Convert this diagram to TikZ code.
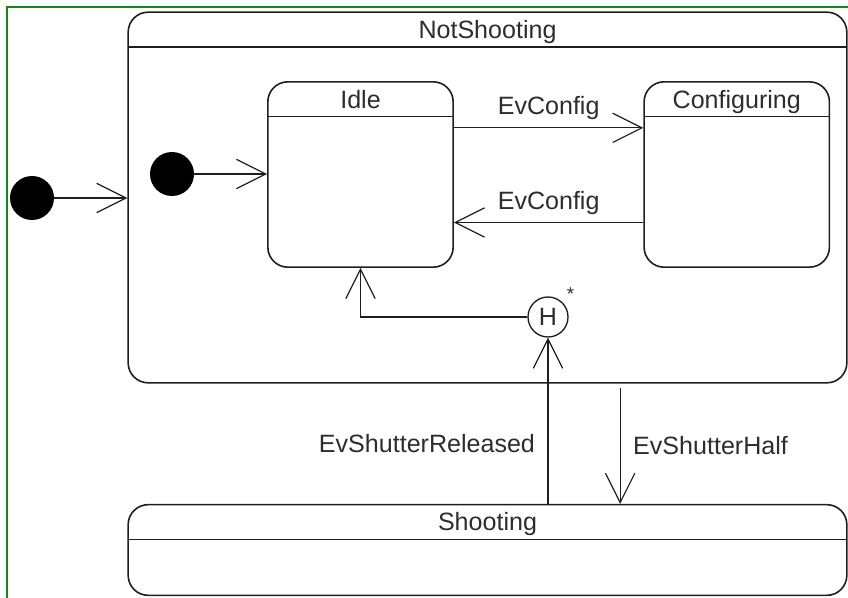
\documentclass[tikz,border=0pt]{standalone}
\usepackage{fontspec}
\setmainfont{Liberation Sans}
\usepackage{tikz}
\usetikzlibrary{positioning}
\usetikzlibrary{arrows.meta}

\definecolor{framegreen}{RGB}{20,135,20}
\definecolor{ink}{RGB}{30,30,30}
\definecolor{textgray}{RGB}{45,45,45}

\begin{document}
\begin{tikzpicture}[
    x=0.75pt, y=-0.75pt,
    every node/.style={font=\fontsize{18.8}{22}\selectfont, text=textgray},
    state/.style={draw=ink, line width=1.2pt, rectangle, rounded corners=15pt,
                  inner sep=0pt,
                  path picture={\draw[ink, line width=1.2pt]
                    ([yshift=-26pt]path picture bounding box.north west) --
                    ([yshift=-26pt]path picture bounding box.north east);}},
    title/.style={anchor=north, inner sep=0pt, yshift=-6.5pt},
    initial/.style={circle, fill=black, minimum size=33pt, inner sep=0pt},
    hist/.style={circle, draw=ink, line width=1pt, minimum size=30pt, inner sep=0pt},
    trans/.style={draw=ink, line width=0.9pt,
                  -{Straight Barb[length=22pt, width=22pt, line width=0.9pt]}},
    >=stealth
  ]
    \useasboundingbox (0,0) rectangle (848,598);
    \clip (0,0) rectangle (848,598);

    % cadre vert
    \draw[framegreen, line width=1.2pt] (7,7) rectangle (870,620);

    % Etats composites
    \node[state, minimum width=539pt, minimum height=278pt] (notshooting) at (487.5,197.5) {};
    \node[title] at (notshooting.north) {NotShooting};
    \node[state, minimum width=539pt, minimum height=68pt] (shooting) at (487.5,550) {};
    \node[title] at (shooting.north) {Shooting};

    % Etats internes
    \node[state, minimum width=139pt, minimum height=139pt] (idle) at (360.5,174.5) {};
    \node[title] at (idle.north) {Idle};
    \node[state, minimum width=139pt, minimum height=139pt, right=142pt of idle] (config) {};
    \node[title] at (config.north) {Configuring};

    % Pseudo-etats
    \node[initial] (init) at (32,198) {};
    \node[initial] (initsub) at (172,174) {};
    \node[hist, label={[inner sep=0pt, xshift=3pt, yshift=1pt, font=\fontsize{14}{14}\selectfont]north east:*}] (history) at (548,317) {H};

    % Transitions
    \draw[trans] (init) -- (init -| notshooting.west);
    \draw[trans] (initsub) -- (initsub -| idle.west);
    \draw[trans] ([yshift=35pt]idle.east) -- node[above=2pt] {EvConfig} ([yshift=35pt]config.west);
    \draw[trans] ([yshift=-36pt]config.west) -- node[above=2pt] {EvConfig} ([yshift=-36pt]idle.east);
    \draw[trans] (history.west) -| (idle.south);
    \draw[trans] (history |- shooting.north) -- node[pos=0.36, left=6pt] {EvShutterReleased} (history.south);
    \draw[trans] ([xshift=99.5pt, yshift=-3pt]notshooting.south) -- node[right=6pt] {EvShutterHalf} ([xshift=99.5pt]shooting.north);

  \end{tikzpicture}
\end{document}
